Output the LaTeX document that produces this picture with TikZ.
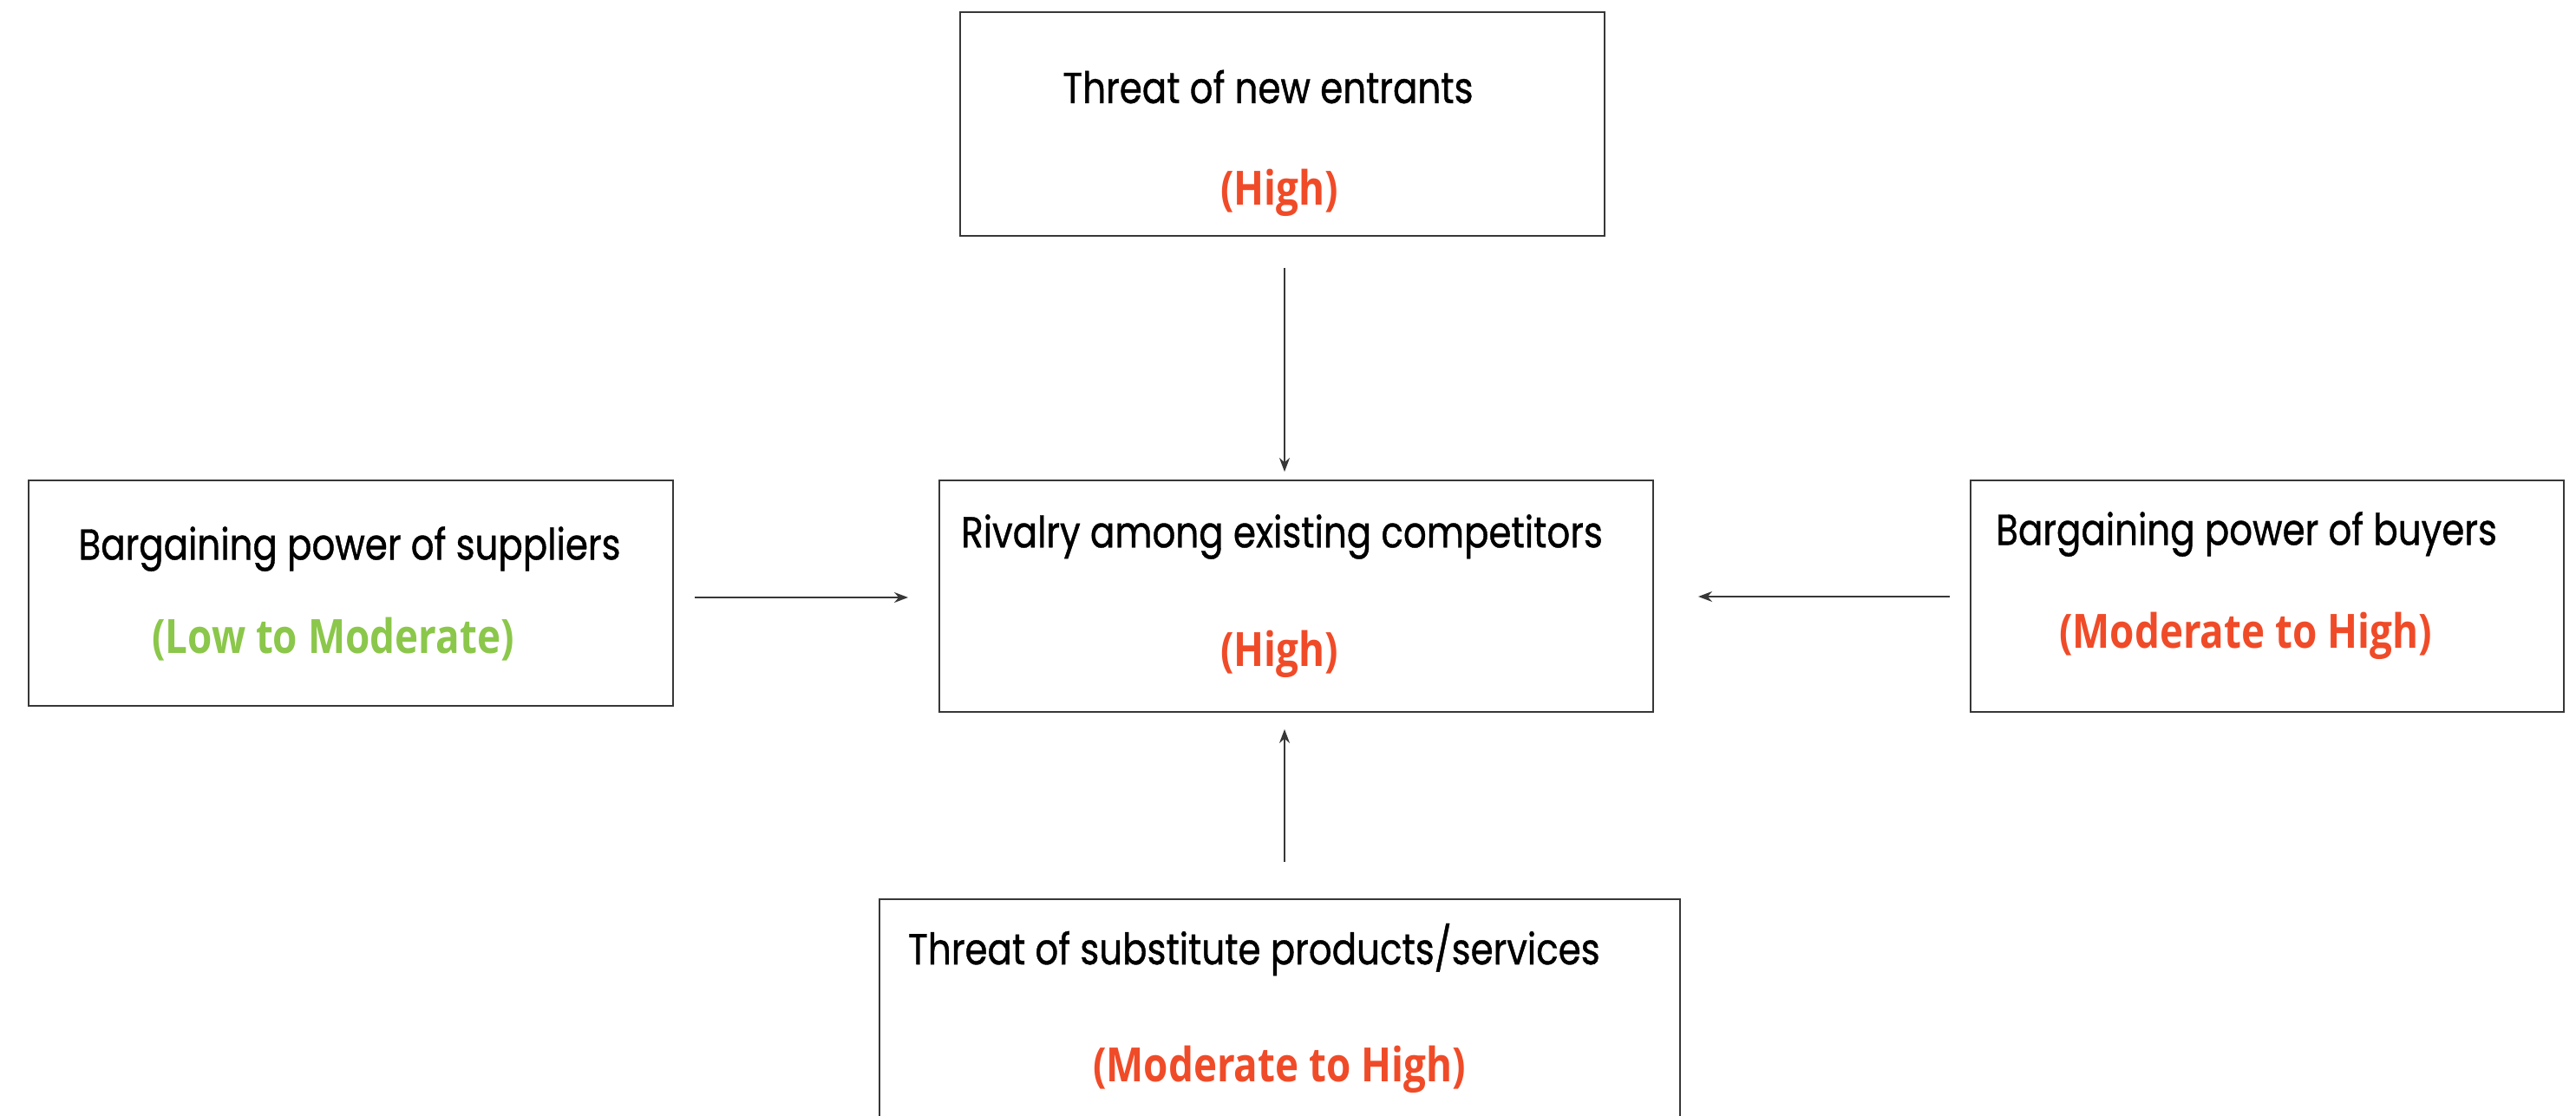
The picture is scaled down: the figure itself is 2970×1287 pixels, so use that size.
\documentclass[tikz,border=0pt]{standalone}
\usepackage{fontspec}
\setmainfont{Poppins}[FakeStretch=0.84,FakeBold=0.8]
\newfontfamily\ratefont{Open Sans}[FakeStretch=0.84]
\usetikzlibrary{arrows.meta}
\definecolor{hired}{RGB}{240,75,40}
\definecolor{lowgreen}{RGB}{139,199,74}
\definecolor{edgegray}{RGB}{55,55,55}
\tikzset{
  box/.style={draw=edgegray, line width=2.2pt, anchor=north west, inner sep=0pt},
  lbl/.style={inner sep=0pt, font=\fontsize{50}{60}\selectfont},
  rate/.style={inner sep=0pt, font=\ratefont\bfseries\fontsize{54.5}{64}\selectfont},
  conn/.style={draw=edgegray, line width=1.8pt, -{Stealth[length=16pt,width=12pt]}}
}
\begin{document}
\begin{tikzpicture}[x=1pt,y=-1pt]
\useasboundingbox (0,0) rectangle (2970,1287);
\clip (0,0) rectangle (2970,1287);
\fill[white] (0,0) rectangle (2970,1287);
% boxes
\node[box, minimum width=743pt, minimum height=258pt] (new) at (1106,13) {};
\node[box, minimum width=823pt, minimum height=267pt] (rival) at (1082,553) {};
\node[box, minimum width=743pt, minimum height=260pt] (supp) at (32,553) {};
\node[box, minimum width=684pt, minimum height=267pt] (buy) at (2271,553) {};
\node[box, minimum width=923pt, minimum height=300pt] (subst) at (1013,1036) {};
% texts
\node[lbl] (newT) at (1462,100) {Threat of new entrants};
\node[rate, text=hired] (newR) at (1475,222) {(High)};
\node[lbl, anchor=west] (rivalT) at (1108,619) {Rivalry among existing competitors};
\node[rate, text=hired] (rivalR) at (1475,754) {(High)};
\node[lbl] (suppT) at (403,633) {Bargaining power of suppliers};
\node[rate, text=lowgreen] (suppR) at (384,737) {(Low to Moderate)};
\node[lbl, anchor=west] (buyT) at (2301,616) {Bargaining power of buyers};
\node[rate, text=hired] (buyR) at (2589,733) {(Moderate to High)};
\node[lbl, anchor=west] (substT) at (1047,1095) {Threat of substitute products/services};
\node[rate, text=hired] (substR) at (1475,1233) {(Moderate to High)};
% connectors
\coordinate (a1s) at (1481,309);
\coordinate (a1e) at (1481,544);
\coordinate (a2s) at (801,689);
\coordinate (a2e) at (1047,689);
\coordinate (a3s) at (2248,688);
\coordinate (a3e) at (1958,688);
\coordinate (a4s) at (1481,994);
\coordinate (a4e) at (1481,841);
\draw[conn] (a1s) -- (a1e);
\draw[conn] (a2s) -- (a2e);
\draw[conn] (a3s) -- (a3e);
\draw[conn] (a4s) -- (a4e);
\end{tikzpicture}
\end{document}
